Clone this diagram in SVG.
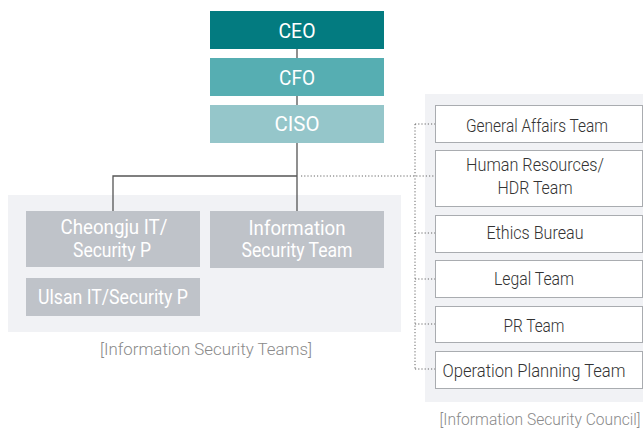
<svg xmlns="http://www.w3.org/2000/svg" width="643" height="430" viewBox="0 0 643 430">
<style>
text{font-family:Roboto,"Liberation Sans",sans-serif;text-anchor:middle;font-weight:300}
.w{fill:#fff;font-weight:400}
.t1{font-size:20px}
.t2{font-size:19.5px}
.t3{font-size:18.5px;fill:#333}
.cap{font-size:16px;fill:#8a8a8a}
.g{fill:#bfc3c9}
.rb{fill:#fff;stroke:#a9acb0;stroke-width:1}
.solid{stroke:#555;stroke-width:1.3;fill:none}
.dot{stroke:#666;stroke-width:1;stroke-dasharray:1.2 2;fill:none}
</style>
<rect x="8" y="195" width="393" height="137" fill="#f1f2f5"/>
<rect x="425" y="94" width="218" height="308" fill="#f1f2f5"/>
<g id="connectors">
<path class="solid" d="M297 49V58M297 96V105M297 143V211M113 211V176H297"/>
<path class="dot" d="M301 176H435M415 124V369M415 124H435M415 233H435M415 279H435M415 324H435M415 369H435"/>
</g>
<g id="ceo"><rect x="210" y="11" width="174" height="38" fill="#037b80"/><text class="w t1" x="297" y="38" textLength="37" lengthAdjust="spacingAndGlyphs">CEO</text></g>
<g id="cfo"><rect x="210" y="58" width="174" height="38" fill="#56aeb2"/><text class="w t1" x="297" y="85" textLength="36" lengthAdjust="spacingAndGlyphs">CFO</text></g>
<g id="ciso"><rect x="210" y="105" width="174" height="38" fill="#95c6ca"/><text class="w t1" x="297" y="131" textLength="45" lengthAdjust="spacingAndGlyphs">CISO</text></g>
<g id="cheongju"><rect class="g" x="26" y="211" width="174" height="56"/><text class="w t2" x="114" y="234" textLength="107" lengthAdjust="spacingAndGlyphs">Cheongju IT/</text><text class="w t2" x="112" y="257" textLength="78" lengthAdjust="spacingAndGlyphs">Security P</text></g>
<g id="infosec"><rect class="g" x="210" y="211" width="174" height="57"/><text class="w t2" x="297" y="235" textLength="97" lengthAdjust="spacingAndGlyphs">Information</text><text class="w t2" x="297" y="257" textLength="111" lengthAdjust="spacingAndGlyphs">Security Team</text></g>
<g id="ulsan"><rect class="g" x="26" y="278" width="174" height="38"/><text class="w t2" x="113" y="304" textLength="150" lengthAdjust="spacingAndGlyphs">Ulsan IT/Security P</text></g>
<text class="cap" x="206" y="355" textLength="212" lengthAdjust="spacingAndGlyphs">[Information Security Teams]</text>
<g id="general"><rect class="rb" x="435.5" y="105.5" width="207" height="37"/><text class="t3" x="537" y="132" textLength="142" lengthAdjust="spacingAndGlyphs">General Affairs Team</text></g>
<g id="hr"><rect class="rb" x="435.5" y="150.5" width="207" height="56"/><text class="t3" x="535" y="171" textLength="138" lengthAdjust="spacingAndGlyphs">Human Resources/</text><text class="t3" x="535" y="194" textLength="75" lengthAdjust="spacingAndGlyphs">HDR Team</text></g>
<g id="ethics"><rect class="rb" x="435.5" y="215.5" width="207" height="37"/><text class="t3" x="535" y="239" textLength="97" lengthAdjust="spacingAndGlyphs">Ethics Bureau</text></g>
<g id="legal"><rect class="rb" x="435.5" y="260.5" width="207" height="37"/><text class="t3" x="534" y="285" textLength="80" lengthAdjust="spacingAndGlyphs">Legal Team</text></g>
<g id="pr"><rect class="rb" x="435.5" y="306.5" width="207" height="36"/><text class="t3" x="534" y="332" textLength="61" lengthAdjust="spacingAndGlyphs">PR Team</text></g>
<g id="opplan"><rect class="rb" x="435.5" y="351.5" width="207" height="37"/><text class="t3" x="534" y="377" textLength="183" lengthAdjust="spacingAndGlyphs">Operation Planning Team</text></g>
<text class="cap" x="540" y="425" textLength="201" lengthAdjust="spacingAndGlyphs">[Information Security Council]</text>
</svg>
